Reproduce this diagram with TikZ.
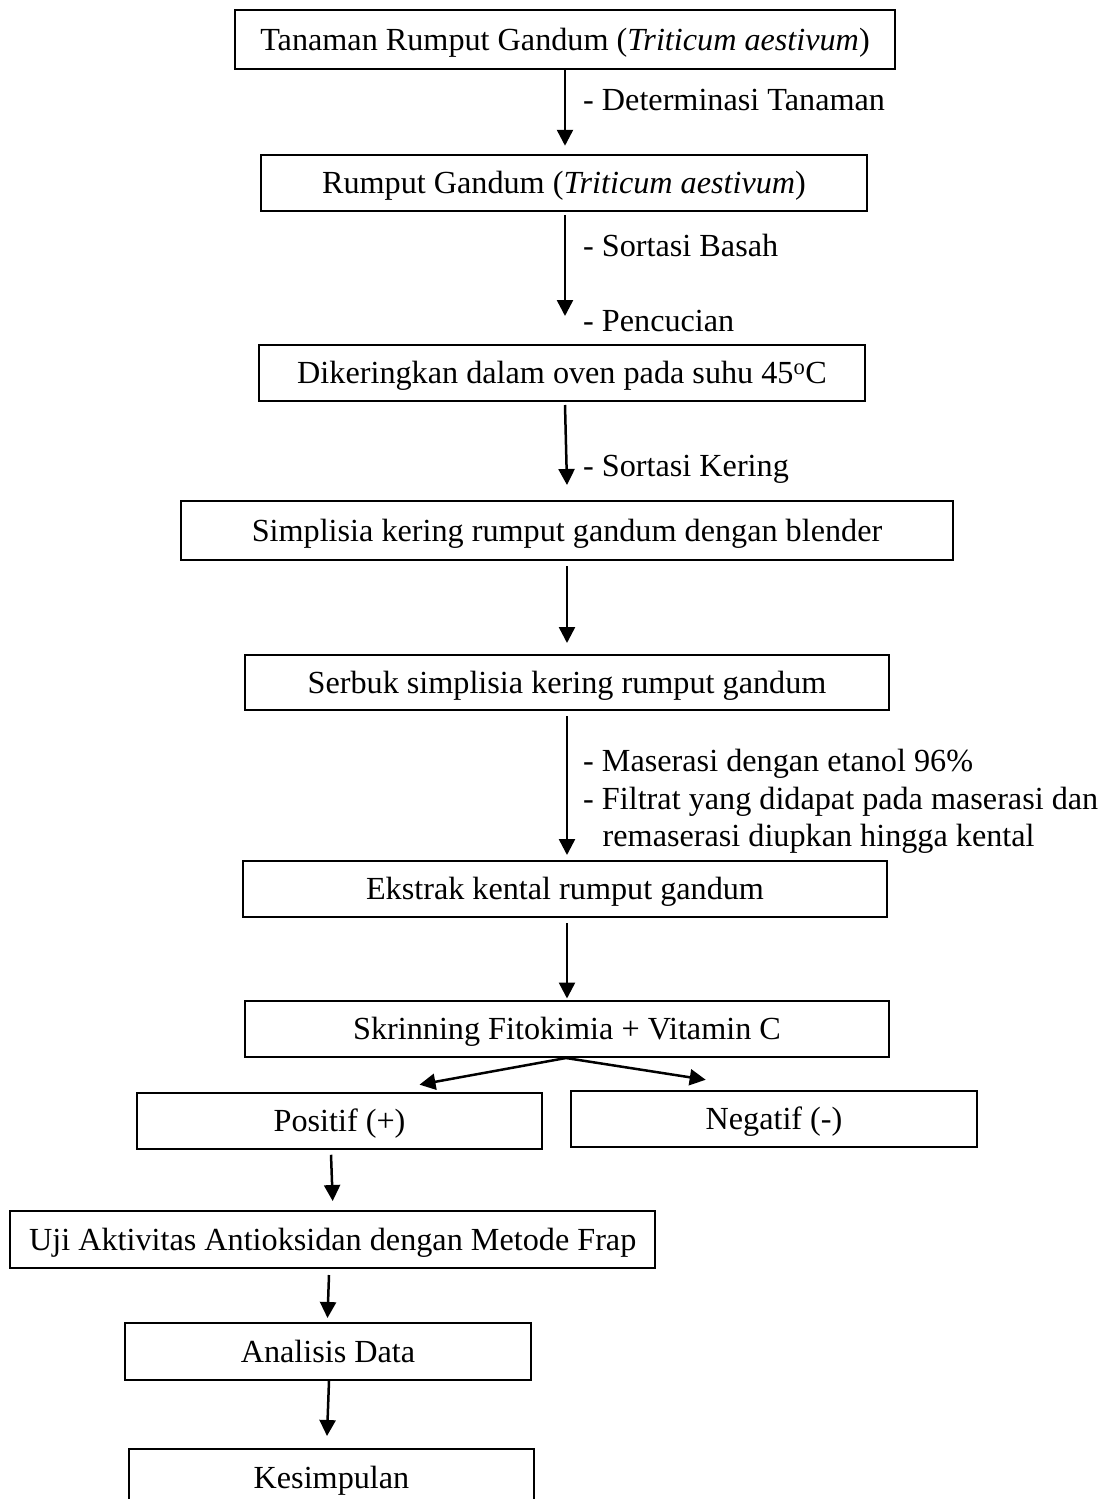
\documentclass[tikz,border=0pt]{standalone}
\usepackage{fontspec}
\setmainfont{Liberation Serif}
\usetikzlibrary{arrows.meta}
\begin{document}
\begin{tikzpicture}[x=1pt,y=-1pt,
  box/.style={draw,line width=2pt,inner sep=0pt,align=center,text height=0.66em,text depth=0pt},
  arr/.style={line width=2.5pt,-{Triangle[length=16pt,width=16pt]}},
  lbl/.style={anchor=base west,inner sep=0pt}]
\fontsize{32.2}{38}\selectfont
\useasboundingbox (0,0) rectangle (1102,1499);
\clip (0,0) rectangle (1102,1499);
\node[box,minimum width=660pt,minimum height=59pt] (b1) at (565,39.5) {Tanaman Rumput Gandum (\textit{Triticum aestivum})};
\node[box,minimum width=606pt,minimum height=55.5pt] (b2) at (564,183) {Rumput Gandum (\textit{Triticum aestivum})};
\node[box,minimum width=606pt,minimum height=56pt] (b3) at (562,373) {Dikeringkan dalam oven pada suhu 45\textsuperscript{o}C};
\node[box,minimum width=772pt,minimum height=59pt] (b4) at (567,530.5) {Simplisia kering rumput gandum dengan blender};
\node[box,minimum width=644pt,minimum height=55pt] (b5) at (567,682.5) {Serbuk simplisia kering rumput gandum};
\node[box,minimum width=644pt,minimum height=56pt] (b6) at (565,889) {Ekstrak kental rumput gandum};
\node[box,minimum width=644pt,minimum height=56pt] (b7) at (567,1029) {Skrinning Fitokimia + Vitamin C};
\node[box,minimum width=405pt,minimum height=55.5pt] (pos) at (339.5,1121) {Positif (+)};
\node[box,minimum width=406pt,minimum height=55.5pt] (neg) at (774,1119) {Negatif (-)};
\node[box,minimum width=645pt,minimum height=57pt] (uji) at (332.7,1239.5) {Uji Aktivitas Antioksidan dengan Metode Frap};
\node[box,minimum width=406pt,minimum height=57pt] (ana) at (328,1351.5) {Analisis Data};
\node[box,minimum width=405pt,minimum height=57pt] (kes) at (331.5,1477.5) {Kesimpulan};

\node[lbl] (l1) at (583,110) {- Determinasi Tanaman};
\node[lbl] (l2) at (583,256.5) {- Sortasi Basah};
\node[lbl] (l3) at (583,331.5) {- Pencucian};
\node[lbl] (l4) at (583,476.5) {- Sortasi Kering};
\node[lbl] (l5) at (583,771.5) {- Maserasi dengan etanol 96\%};
\node[lbl] (l6) at (583,809) {- Filtrat yang didapat pada maserasi dan};
\node[lbl] (l7) at (602.5,846.5) {remaserasi diupkan hingga kental};

\draw[arr] (b1.south) -- ([xshift=1pt,yshift=8.5pt]b2.north);
\draw[arr] ([xshift=1pt,yshift=-3pt]b2.south) -- ([xshift=3pt,yshift=28pt]b3.north);
\draw[arr] ([xshift=3pt,yshift=-3pt]b3.south) -- ([yshift=15pt]b4.north);
\draw[arr] ([yshift=-5pt]b4.south) -- ([yshift=11pt]b5.north);
\draw[arr] ([yshift=-5pt]b5.south) -- ([xshift=2pt,yshift=5pt]b6.north);
\draw[arr] ([xshift=2pt,yshift=-5pt]b6.south) -- ([yshift=1.5pt]b7.north);
\draw[arr] ([xshift=-1pt]b7.south) -- ([xshift=80pt,yshift=7.6pt]pos.north);
\draw[arr] ([xshift=-1pt]b7.south) -- ([xshift=-68.3pt,yshift=10.5pt]neg.north);
\draw[arr] ([xshift=-8.5pt,yshift=-5pt]pos.south) -- ([yshift=9pt]uji.north);
\draw[arr] ([xshift=-3.7pt,yshift=-6pt]uji.south) -- ([xshift=-0.5pt,yshift=4pt]ana.north);
\draw[arr] ([xshift=1pt]ana.south) -- ([xshift=-4.5pt,yshift=12pt]kes.north);
\end{tikzpicture}
\end{document}
